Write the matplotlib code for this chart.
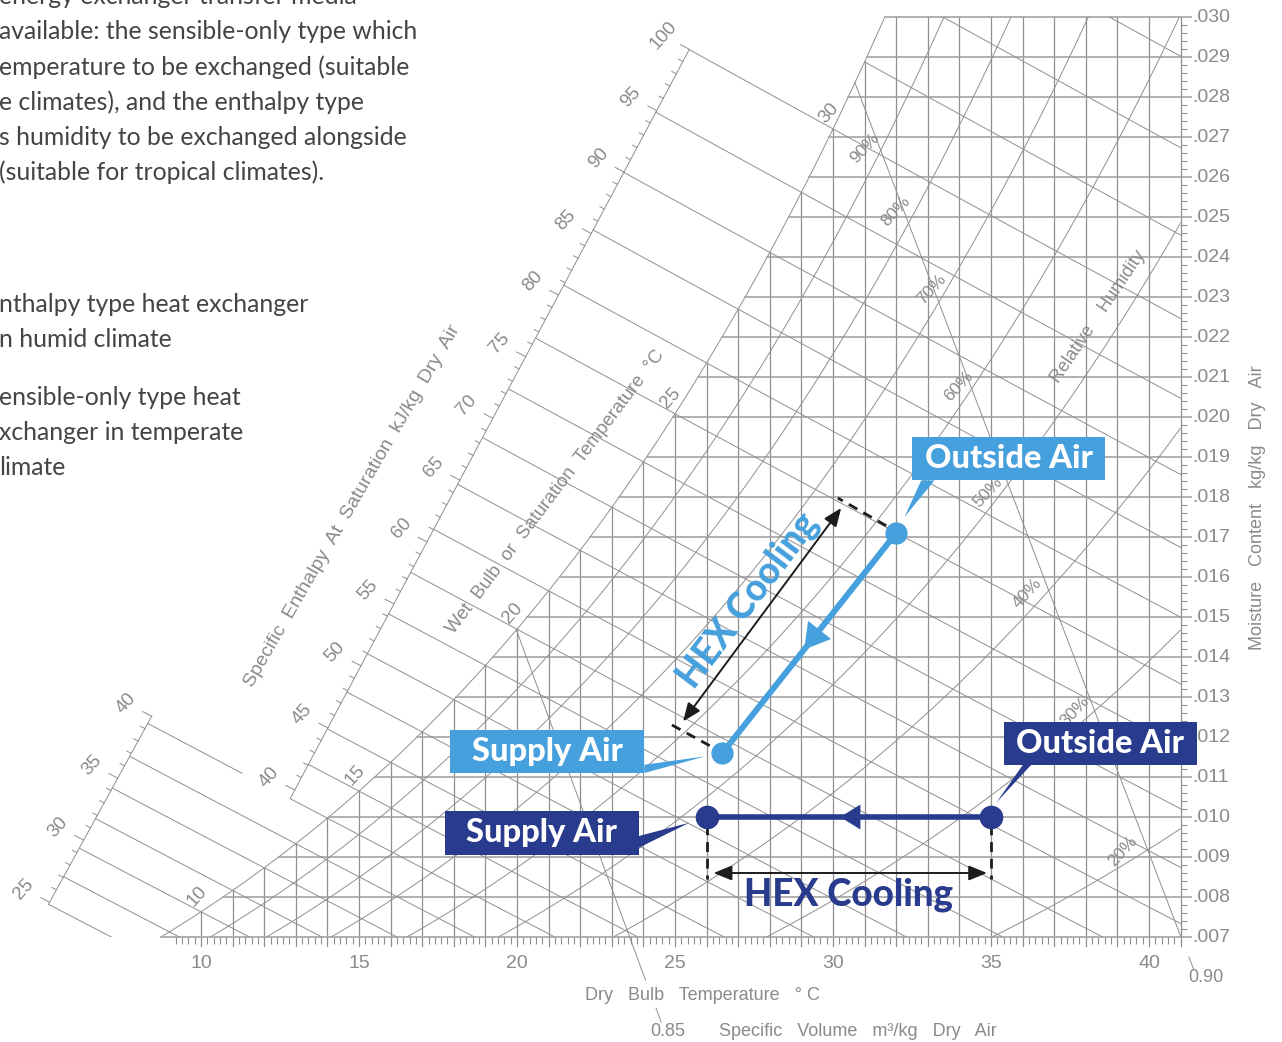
import numpy as np
import matplotlib
matplotlib.use("Agg")
import matplotlib.pyplot as plt
import matplotlib.transforms as mtransforms
from matplotlib.patches import Polygon, Rectangle

# process states (dry bulb degC, moisture kg/kg): outside air -> supply air
humid_db = [32.0, 26.5]        # enthalpy type HEX, humid climate
humid_mc = [0.0171, 0.0116]
temperate_db = [35.0, 26.0]    # sensible-only HEX, temperate climate
temperate_mc = [0.0100, 0.0100]

db_ticks = [10, 15, 20, 25, 30, 35, 40]
mc_ticks = [0.007, 0.008, 0.009, 0.010, 0.011, 0.012, 0.013, 0.014, 0.015, 0.016, 0.017, 0.018,
            0.019, 0.020, 0.021, 0.022, 0.023, 0.024, 0.025, 0.026, 0.027, 0.028, 0.029, 0.030]
rh_levels = [0.1, 0.2, 0.3, 0.4, 0.5, 0.6, 0.7, 0.8, 0.9]
rh_labels = ["90%", "80%", "70%", "60%", "50%", "40%", "30%", "20%"]
wb_labels = [10, 15, 20, 25, 30]
h_low_labels = [25, 30, 35, 40]
h_high_labels = [40, 45, 50, 55, 60, 65, 70, 75, 80, 85, 90, 95, 100]
sv_values = [0.85, 0.90]

LIGHT = "#45a0dd"
DARK = "#283b8d"
GRID = "#8f8f8f"
GRID_H = "#a3a3a3"
LABEL = "#8a8a8a"
INK = "#1c1c1c"

P_ATM = 101.325
DB_MAX = 41.0
MC_MIN, MC_MAX = 0.007, 0.030
PX_T = 31.6       # pixels per degC
PX_W = 40000.0    # pixels per kg/kg


def p_ws(t):
    tk = np.asarray(t, float) + 273.15
    return np.exp(-5.8002206e3 / tk + 1.3914993 - 4.8640239e-2 * tk + 4.1764768e-5 * tk ** 2
                  - 1.4452093e-8 * tk ** 3 + 6.5459673 * np.log(tk)) / 1000.0


def w_rh(t, rh):
    p = rh * p_ws(t)
    return 0.621945 * p / (P_ATM - p)


def w_wb(t, twb):
    ws = w_rh(twb, 1.0)
    return ((2501 - 2.326 * twb) * ws - 1.006 * (t - twb)) / (2501 + 1.86 * t - 4.186 * twb)


def enthalpy(t, w):
    return 1.006 * t + w * (2501 + 1.86 * t)


def volume(t, w):
    return 0.287042 * (t + 273.15) * (1 + 1.607858 * w) / P_ATM


def t_for_volume(v, w):
    return v * P_ATM / (0.287042 * (1 + 1.607858 * np.asarray(w))) - 273.15


_tg = np.linspace(-5, 50, 5501)
_wg = w_rh(_tg, 1.0)


def t_sat(w):
    return np.interp(w, _wg, _tg)


def at(x, y):
    # pixel position on the sheet -> chart coordinates (used for text placement)
    return 10 + (x - 201) / PX_T, MC_MIN + (937 - y) / PX_W


fig = plt.figure(figsize=(12.82, 10.42), dpi=100)
ax = fig.add_axes([0, 0, 1, 1])
ax.set_xlim(10 - 201 / PX_T, 10 + 1081 / PX_T)
ax.set_ylim(MC_MIN - 105 / PX_W, MC_MIN + 937 / PX_W)
ax.axis("off")

thin = dict(color=GRID, lw=0.7, zorder=1)
small = dict(color=LABEL, family="Liberation Sans", zorder=2)

# ---- chart frame and grid ----
ts = np.linspace(t_sat(MC_MIN), t_sat(MC_MAX), 300)
ax.plot(ts, w_rh(ts, 1.0), **thin)
region = Polygon(np.column_stack([np.r_[ts, DB_MAX, DB_MAX], np.r_[w_rh(ts, 1.0), MC_MAX, MC_MIN]]),
                 closed=True, fc="none", ec="none", transform=ax.transData)
ax.add_patch(region)
box = Rectangle((ax.get_xlim()[0], MC_MIN), DB_MAX - ax.get_xlim()[0], MC_MAX - MC_MIN,
                fc="none", ec="none", transform=ax.transData)
ax.add_patch(box)

for t in range(10, 42):
    ax.plot([t, t], [MC_MIN - 9 / PX_W, min(w_rh(t, 1.0), MC_MAX)], color=GRID, lw=0.9, zorder=1)
minor_t = [i / 5 for i in range(46, 205) if i % 5]
ax.vlines(minor_t, MC_MIN - 7 / PX_W, MC_MIN, color=GRID, lw=0.8, zorder=1)

for w in mc_ticks:
    ax.plot([t_sat(w), DB_MAX + 10 / PX_T], [w, w], color=GRID_H, lw=1.2, zorder=1)
minor_w = [i / 5000 for i in range(36, 150) if i % 5]
ax.hlines(minor_w, DB_MAX, DB_MAX + 6 / PX_T, color=GRID, lw=0.8, zorder=1)

tt = np.linspace(0, DB_MAX, 600)
for rh in rh_levels:
    ln, = ax.plot(tt, w_rh(tt, rh), **thin)
    ln.set_clip_path(region)

# ---- wet bulb lines and the two enthalpy-at-saturation scales ----
low_a, low_b = at(47, 907), at(148, 723)
up_a, up_b = at(290, 799), at(689, 50)


def meet(twb, a, b):
    t = np.linspace(-15, twb + 2, 3000)
    w = w_wb(t, twb)
    side = (t - a[0]) * PX_T * (b[1] - a[1]) * PX_W - (w - a[1]) * PX_W * (b[0] - a[0]) * PX_T
    i = np.nonzero(np.diff(np.sign(side)))[0][0]
    f = side[i] / (side[i] - side[i + 1])
    return t[i] + f * (t[i + 1] - t[i])


def draw_wb(twb, t0, t1):
    t = np.linspace(t0, t1, 100)
    ln, = ax.plot(t, w_wb(t, twb), **thin)
    ln.set_clip_path(box)


for twb in range(8, 41):
    if twb < 14:
        draw_wb(twb, meet(twb, low_a, low_b), DB_MAX)
    elif twb == 14:
        tu = meet(twb, up_a, up_b)
        draw_wb(twb, meet(twb, low_a, low_b), tu - 48 / PX_T)
        draw_wb(twb, tu, DB_MAX)
    elif twb <= 30:
        draw_wb(twb, meet(twb, up_a, up_b), DB_MAX)
    else:
        draw_wb(twb, twb, DB_MAX)


def along(a, b, s):
    return a[0] + s * (b[0] - a[0]), a[1] + s * (b[1] - a[1])


def scale_at(hv, a, b):
    s = np.linspace(-0.5, 1.5, 4001)
    t, w = along(a, b, s)
    return along(a, b, np.interp(hv, enthalpy(t, w), s))


def outward(t, w, length):
    dx, dy = -PX_T, (1.006 + 1.86 * w) / (2501 + 1.86 * t) * PX_W
    n = np.hypot(dx, dy)
    return t + length * dx / n / PX_T, w + length * dy / n / PX_W


for (a, b, h_lo, h_hi, wb_lo, wb_hi, labels) in [
        (low_a, low_b, 25, 40, 8, None, h_low_labels),
        (up_a, up_b, 40, 100, 14, 30, h_high_labels)]:
    t0 = meet(wb_lo, a, b)
    p0 = (t0, w_wb(t0, wb_lo))
    if wb_hi is None:
        p1 = scale_at(h_hi, a, b)
    else:
        t1 = meet(wb_hi, a, b)
        p1 = (t1, w_wb(t1, wb_hi))
    ax.plot([p0[0], p1[0]], [p0[1], p1[1]], **thin)
    for hv in range(h_lo, h_hi + 1):
        t, w = scale_at(hv, a, b)
        t2, w2 = outward(t, w, 10 if hv % 5 == 0 else 5)
        ax.plot([t, t2], [w, w2], color=GRID, lw=0.7, zorder=1)
    for hv in labels:
        t, w = scale_at(hv, a, b)
        lt, lw_ = outward(t, w, 29)
        ax.text(lt, lw_, str(hv), rotation=48, ha="center", va="center", fontsize=13.5,
                bbox=dict(fc="white", ec="none", pad=0.5), **small)

for twb in wb_labels:
    ax.text(twb - 4 / PX_T, w_rh(twb, 1.0) + 16 / PX_W, str(twb), rotation=48,
            ha="center", va="center", fontsize=13.5, **small)

# ---- specific volume lines ----
sv_layout = {0.85: (43, 71, 85, 95, 3), 0.90: (0, 20, 33, 41, 9)}
tq = np.linspace(10, 40, 3001)
for v in sv_values:
    tv = np.interp(0.0, volume(tq, w_rh(tq, 1.0)) - v, tq)
    end, l0, l1, lab, shift = sv_layout[v]
    ww = np.array([w_rh(tv, 1.0), MC_MIN - end / PX_W])
    ax.plot(t_for_volume(v, ww), ww, **thin)
    ww = np.array([MC_MIN - l0 / PX_W, MC_MIN - l1 / PX_W])
    ax.plot(t_for_volume(v, ww), ww, **thin)
    wl = MC_MIN - lab / PX_W
    ax.text(t_for_volume(v, wl) + shift / PX_T, wl, f"{v:.2f}", ha="center", va="center",
            fontsize=13, **small)

# ---- labels ----
rh_label_px = [(865, 148), (896, 211), (932, 289), (959, 386), (988, 492), (1027, 593), (1075, 711), (1123, 851)]
for txt, (px, py) in zip(rh_labels, rh_label_px):
    ax.text(*at(px, py), txt, rotation=47, ha="center", va="center", fontsize=12.5, **small)

ax.text(*at(1098, 317), "Relative    Humidity", rotation=56, ha="center", va="center", fontsize=13, **small)
ax.text(*at(352, 506), "Specific  Enthalpy  At  Saturation  kJ/kg  Dry  Air", rotation=60,
        ha="center", va="center", fontsize=14, **small)
ax.text(*at(556, 492), "Wet  Bulb  or  Saturation  Temperature  \u00b0C", rotation=53,
        ha="center", va="center", fontsize=13.5, **small)

for t in db_ticks:
    ax.text(t, MC_MIN - 26 / PX_W, str(t), ha="center", va="center", fontsize=14, **small)
for w in mc_ticks:
    ax.text(DB_MAX + 12 / PX_T, w, f"{w:.3f}"[1:], ha="left", va="center", fontsize=14, **small)

ax.text(*at(702, 995), "Dry   Bulb   Temperature   \u00b0 C", ha="center", va="center", fontsize=13, **small)
ax.text(*at(858, 1032), "Specific   Volume   m\u00b3/kg   Dry   Air", ha="center", va="center",
        fontsize=13, **small)
ax.text(*at(1257, 508), "Moisture   Content   kg/kg   Dry   Air", rotation=90, ha="center", va="center",
        fontsize=13, **small)

# ---- processes ----
ax.plot(humid_db, humid_mc, color=LIGHT, lw=4.3, zorder=5)
ax.plot(humid_db, humid_mc, "o", ms=15, color=LIGHT, zorder=6)
ax.plot(temperate_db, temperate_mc, color=DARK, lw=4.0, zorder=5)
ax.plot(temperate_db, temperate_mc, "o", ms=16, color=DARK, zorder=6)


def mid_arrow(xs, ys, color, hl, hw):
    tip = (xs[0] + 0.53 * (xs[1] - xs[0]), ys[0] + 0.53 * (ys[1] - ys[0]))
    tail = (xs[0] + 0.3 * (xs[1] - xs[0]), ys[0] + 0.3 * (ys[1] - ys[0]))
    ax.annotate("", xy=tip, xytext=tail, zorder=6,
                arrowprops=dict(arrowstyle=f"-|>,head_length={hl},head_width={hw}", mutation_scale=10,
                                color=color, lw=0, shrinkA=0, shrinkB=0))


mid_arrow(humid_db, humid_mc, LIGHT, 1.8, 1.05)
mid_arrow(temperate_db, temperate_mc, DARK, 1.45, 0.9)


def local(t, w):
    # offsets in screen pixels (y downwards) around a chart point
    return mtransforms.Affine2D().scale(1, -1) + mtransforms.ScaledTranslation(t, w, ax.transData)


def callout(t, w, rect, base, tip, text, color):
    tr = local(t, w)
    x0, y0, x1, y1 = rect
    ax.add_patch(Polygon([(x0, y0), (x1, y0), (x1, y1), (x0, y1)], closed=True, transform=tr,
                         fc=color, ec="none", zorder=7))
    ax.add_patch(Polygon([base[0], base[1], tip], closed=True, transform=tr, fc=color, ec="none", zorder=7))
    ax.text((x0 + x1) / 2, y0 + 31, text, transform=tr, ha="center", va="baseline", color="white",
            fontsize=23.5, fontweight="black", family="Lato", zorder=8)


callout(humid_db[0], humid_mc[0], (16, -96, 209, -52.6), [(25, -52.6), (38.3, -52.6)], (8.3, -16),
        "Outside Air", LIGHT)
callout(humid_db[1], humid_mc[1], (-272, -23.3, -78, 20), [(-78, 11.7), (-78, 20)], (-17.4, 3.4),
        "Supply Air", LIGHT)
callout(temperate_db[0], temperate_mc[0], (12.6, -95.3, 205.6, -52), [(31.8, -52), (40, -52)], (5.2, -14.3),
        "Outside Air", DARK)
callout(temperate_db[1], temperate_mc[1], (-262.1, -6, -67.7, 38), [(-67.7, 19), (-67.7, 30.7)], (-17.2, 5.7),
        "Supply Air", DARK)

# dimension lines
dash = dict(color=INK, lw=2, ls=(0, (3.5, 2.5)), zorder=4)
dim = dict(arrowstyle="<|-|>,head_length=1.1,head_width=0.45", mutation_scale=10, color=INK, lw=1.4,
           shrinkA=0, shrinkB=0)
oa_l, sa_l = local(humid_db[0], humid_mc[0]), local(humid_db[1], humid_mc[1])
ax.plot([-10, -58.4], [-7.3, -35], transform=oa_l, **dash)
ax.plot([-12.7, -51], [-7.3, -28.3], transform=sa_l, **dash)
ax.annotate("", xy=(-39.3, -31.6), xycoords=sa_l, xytext=(-55, -25), textcoords=oa_l, arrowprops=dim, zorder=4)
ax.text(*at(748, 600), "HEX Cooling", rotation=53, ha="center", va="center", color=LIGHT,
        fontsize=26.5, fontweight="black", family="Lato", zorder=6)

oa_d, sa_d = local(temperate_db[0], temperate_mc[0]), local(temperate_db[1], temperate_mc[1])
ax.plot([0, 0], [8, 62], transform=oa_d, **dash)
ax.plot([0, 0], [8, 62], transform=sa_d, **dash)
ax.annotate("", xy=(7, 56), xycoords=sa_d, xytext=(-4, 56), textcoords=oa_d, arrowprops=dim, zorder=4)
ax.text(*at(848, 895), "HEX Cooling", ha="center", va="center", color=DARK,
        fontsize=26.5, fontweight="black", family="Lato", zorder=6)

# ---- body text (cut by the left edge of the page) ----
body = [("energy exchanger transfer media", 4), ("available: the sensible-only type which", 39.3),
        ("emperature to be exchanged (suitable", 75), ("e climates), and the enthalpy type", 110),
        ("s humidity to be exchanged alongside", 145), ("(suitable for tropical climates).", 180),
        ("nthalpy type heat exchanger", 311.7), ("n humid climate", 346.7),
        ("ensible-only type heat", 405), ("xchanger in temperate", 440), ("limate", 475)]
for s, y in body:
    fig.text(-1 / 1282, 1 - y / 1042, s, ha="left", va="baseline", fontsize=17.8, color="#444444",
             family="Lato", fontweight="normal")

fig.savefig("out.png", dpi=100)
